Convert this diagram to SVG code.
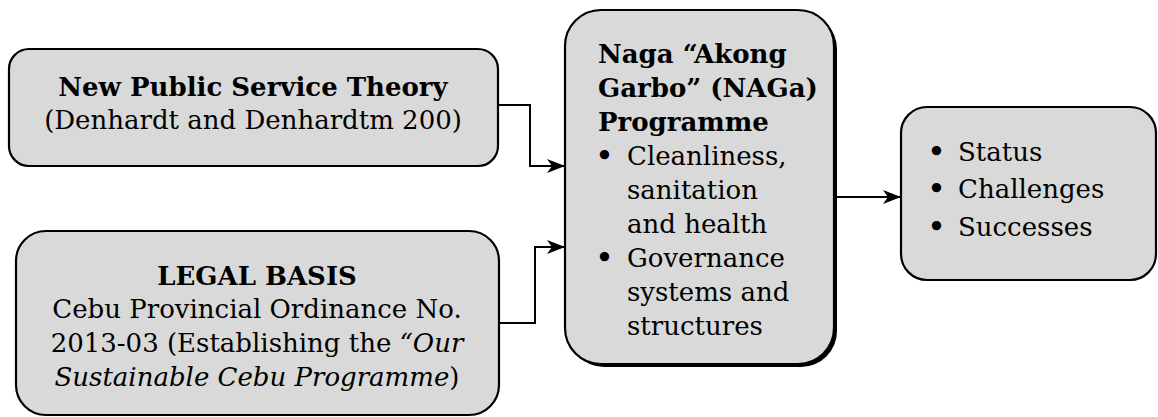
<svg xmlns="http://www.w3.org/2000/svg" width="1158" height="417" viewBox="0 0 1158 417">
<defs>
<style>
.box{fill:#d9d9d9;stroke:#000;stroke-width:2.2}
.t{font-family:"DejaVu Serif","Liberation Serif",serif;font-size:26px;fill:#000}
.b{font-weight:bold}
.c{text-anchor:middle}
.bul{font-family:"DejaVu Serif","Liberation Serif",serif;font-size:32px;fill:#000}
.conn{fill:none;stroke:#000;stroke-width:2}
</style>
<marker id="arr" viewBox="0 0 18 14" refX="17" refY="7" markerWidth="18" markerHeight="14" markerUnits="userSpaceOnUse" orient="auto">
<path d="M0,0 L18,7 L0,14 L5,7 z" fill="#000"/>
</marker>
</defs>
<g id="theory">
<rect class="box" x="9" y="49" width="489" height="117" rx="20"/>
<text class="t b c" x="253" y="96">New Public Service Theory</text>
<text class="t c" x="253" y="129">(Denhardt and Denhardtm 200)</text>
</g>
<g id="legal">
<rect class="box" x="16" y="231" width="483" height="184" rx="30"/>
<text class="t b c" x="257" y="285">LEGAL BASIS</text>
<text class="t c" x="257" y="318">Cebu Provincial Ordinance No.</text>
<text class="t c" x="257" y="352">2013-03 (Establishing the <tspan font-style="italic">“Our</tspan></text>
<text class="t c" x="257" y="386"><tspan font-style="italic">Sustainable Cebu Programme</tspan>)</text>
</g>
<g id="naga">
<rect x="568" y="13" width="269" height="354" rx="36" fill="#000"/>
<rect class="box" x="565" y="10" width="269" height="354" rx="36"/>
<text class="t b" x="598" y="63">Naga “Akong</text>
<text class="t b" x="598" y="97">Garbo” (NAGa)</text>
<text class="t b" x="598" y="131">Programme</text>
<text class="bul" x="595" y="167">•</text>
<text class="t" x="627" y="165">Cleanliness,</text>
<text class="t" x="627" y="199">sanitation</text>
<text class="t" x="627" y="233">and health</text>
<text class="bul" x="595" y="269">•</text>
<text class="t" x="627" y="267">Governance</text>
<text class="t" x="627" y="301">systems and</text>
<text class="t" x="627" y="335">structures</text>
</g>
<g id="outcomes">
<rect class="box" x="901" y="107" width="255" height="173" rx="26"/>
<text class="bul" x="927" y="163">•</text>
<text class="t" x="958" y="161">Status</text>
<text class="bul" x="927" y="200">•</text>
<text class="t" x="958" y="198">Challenges</text>
<text class="bul" x="927" y="238">•</text>
<text class="t" x="958" y="236">Successes</text>
</g>
<g id="connectors">
<path class="conn" d="M498,105 H530 V166 H564" marker-end="url(#arr)"/>
<path class="conn" d="M499,323 H535 V247 H564" marker-end="url(#arr)"/>
<path class="conn" d="M837,197 H900" marker-end="url(#arr)"/>
</g>
</svg>
